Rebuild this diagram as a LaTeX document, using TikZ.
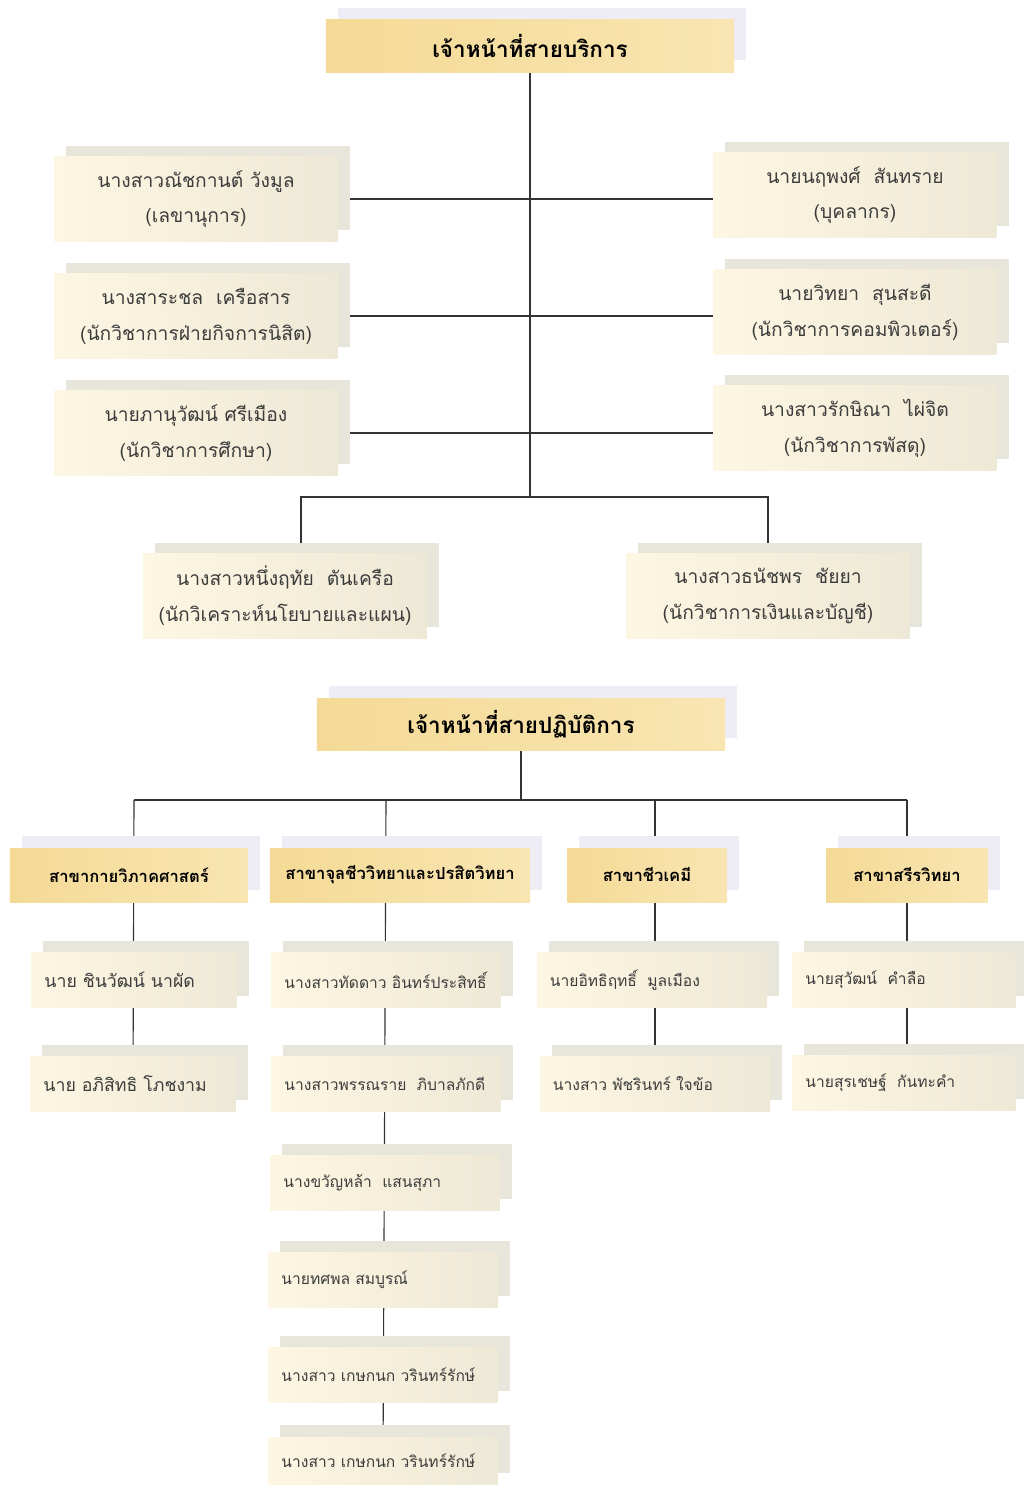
\documentclass[tikz,border=0pt]{standalone}
\usepackage{fontspec}
\newfontfamily\thaifont[Script=Thai]{Loma}
\usetikzlibrary{shadows,backgrounds}

\definecolor{headL}{HTML}{F4DA96}
\definecolor{headR}{HTML}{F9E5B2}
\definecolor{headback}{HTML}{EEEDF5}
\definecolor{memL}{HTML}{FCF6E2}
\definecolor{memR}{HTML}{EEE8D6}
\definecolor{memback}{HTML}{E8E5DA}
\definecolor{txtgray}{HTML}{3C3C3C}
\definecolor{linkgray}{HTML}{333333}

\tikzset{
	headbox/.style={font=\thaifont\bfseries\fontsize{16}{19}\selectfont, left color=headL, right color=headR,
		minimum width=10.2cm, minimum height=1.3cm,
		general shadow={fill=headback, shadow xshift=0.3cm, shadow yshift=0.3cm}},
	branchbox/.style={font=\thaifont\bfseries\fontsize{11.8}{15}\selectfont, left color=headL, right color=headR,
		minimum width=#1, minimum height=1.35cm,
		general shadow={fill=headback, shadow xshift=0.3cm, shadow yshift=0.3cm}},
	staffbox/.style={font=\thaifont\fontsize{13.7}{25.5}\selectfont, text=txtgray, align=center,
		left color=memL, right color=memR, minimum width=7.075cm, minimum height=2.1cm,
		general shadow={fill=memback, shadow xshift=0.3cm, shadow yshift=0.275cm}},
	labbox/.style={font=\thaifont\fontsize{11.1}{14}\selectfont, text=txtgray, align=left,
		text width=#1, inner xsep=0.325cm, minimum height=1.375cm,
		execute at begin node={\leavevmode\hbox\bgroup}, execute at end node={\egroup},
		left color=memL, right color=memR,
		general shadow={fill=memback, shadow xshift=0.3cm, shadow yshift=0.3cm}},
	link/.style={draw=linkgray, line width=0.8pt},
	rowlink/.style={draw=linkgray, line width=1.3pt}
}

\begin{document}
\begin{tikzpicture}[x=0.025cm,y=-0.025cm]
	\useasboundingbox (0,0) rectangle (1024,1485);
	
	% Service staff
	\node[headbox] (svc) at (530,46) {เจ้าหน้าที่สายบริการ};
	\coordinate (j1) at (530,497);
	
	\node[staffbox] (l1) at (196,199) {นางสาวณัชกานต์\ วังมูล\\(เลขานุการ)};
	\node[staffbox] (r1) at (855,195) {นายนฤพงศ์\ \ สันทราย\\(บุคลากร)};
	\node[staffbox] (l2) at (196,316) {นางสาระชล\ \ เครือสาร\\(นักวิชาการฝ่ายกิจการนิสิต)};
	\node[staffbox] (r2) at (855,312) {นายวิทยา\ \ สุนสะดี\\(นักวิชาการคอมพิวเตอร์)};
	\node[staffbox] (l3) at (196,433) {นายภานุวัฒน์\ ศรีเมือง\\(นักวิชาการศึกษา)};
	\node[staffbox] (r3) at (855,428) {นางสาวรักษิณา\ \ ไผ่จิต\\(นักวิชาการพัสดุ)};
	\node[staffbox] (b1) at (285,596) {นางสาวหนึ่งฤทัย\ \ ตันเครือ\\(นักวิเคราะห์นโยบายและแผน)};
	\node[staffbox] (b2) at (768,596) {นางสาวธนัชพร\ \ ชัยยา\\(นักวิชาการเงินและบัญชี)};
	
	% Laboratory staff
	\node[headbox] (lab) at (521,724) {เจ้าหน้าที่สายปฏิบัติการ};
	\coordinate (j2) at (521,800);
	
	\node[branchbox=5.95cm] (c1) at (129,875) {สาขากายวิภาคศาสตร์};
	\node[branchbox=6.5cm] (c2) at (400,875) {สาขาจุลชีววิทยาและปรสิตวิทยา};
	\node[branchbox=3.975cm] (c3) at (647,875) {สาขาชีวเคมี};
	\node[branchbox=4.025cm] (c4) at (907,875) {สาขาสรีรวิทยา};
	
	% anatomy
	\node[labbox=4.475cm, font=\thaifont\fontsize{12.6}{15}\selectfont] (m11) at (134,980) {นาย ชินวัฒน์ นาผัด};
	\node[labbox=4.475cm, font=\thaifont\fontsize{12.6}{15}\selectfont] (m12) at (133,1084) {นาย อภิสิทธิ โภชงาม};
	% microbiology
	\node[labbox=5.075cm] (m21) at (386,980) {นางสาวทัดดาว อินทร์ประสิทธิ์};
	\node[labbox=5.075cm] (m22) at (386,1084) {นางสาวพรรณราย\ \ ภิบาลภักดี};
	\node[labbox=5.075cm] (m23) at (385,1183) {นางขวัญหล้า\ \ แสนสุภา};
	\node[labbox=5.075cm] (m24) at (383,1280) {นายทศพล สมบูรณ์};
	\node[labbox=5.075cm] (m25) at (383,1375) {นางสาว เกษกนก วรินทร์รักษ์};
	\node[labbox=5.075cm, minimum height=1.2cm] (m26) at (383,1461) {นางสาว เกษกนก วรินทร์รักษ์};
	% biochemistry
	\node[labbox=5.1cm] (m31) at (652,980) {นายอิทธิฤทธิ์\ \ มูลเมือง};
	\node[labbox=5.1cm] (m32) at (655,1084) {นางสาว พัชรินทร์ ใจข้อ};
	% physiology
	\node[labbox=4.925cm] (m41) at (904,980) {นายสุวัฒน์\ \ คำลือ};
	\node[labbox=4.925cm] (m42) at (904,1083) {นายสุรเชษฐ์\ \ กันทะคำ};
	
	% Connectors, kept behind the boxes
	\begin{scope}[on background layer]
		\draw[link] (svc) -- (j1);
		\draw[rowlink] (l1) -- (l1 -| r1);
		\draw[rowlink] (l2) -- (l2 -| r2);
		\draw[rowlink] (l3) -- (l3 -| r3);
		\draw[link] ([xshift=0.4cm]b1.center) |- (j1) -| (b2);
		
		\draw[link] (lab) -- (j2);
		\draw[link] (m11 |- j2) -- (c4 |- j2);
		\draw[link] (m11 |- j2) -- (m12);
		\draw[link] (m21 |- j2) -- (m26);
		\draw[link] (m32 |- j2) -- (m32);
		\draw[link] (c4) -- (c4 |- j2);
		\draw[link] (c4) -- (c4 |- m42);
	\end{scope}
\end{tikzpicture}
\end{document}
